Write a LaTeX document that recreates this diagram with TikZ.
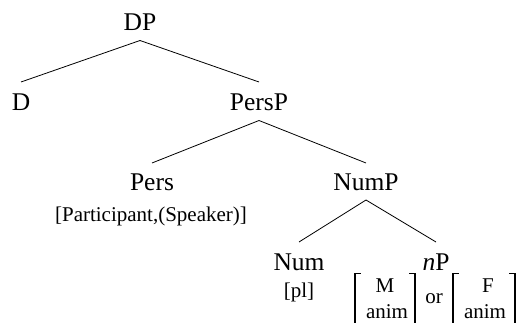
\documentclass[tikz,border=0pt]{standalone}
\usepackage{fontspec}
\setmainfont{Liberation Serif}
\begin{document}
\begin{tikzpicture}[x=1pt,y=-1pt,
  lbl/.style={anchor=base,inner sep=0pt,font=\fontsize{25.5}{30}\selectfont},
  feat/.style={anchor=base,inner sep=0pt,font=\fontsize{21}{25}\selectfont},
  branch/.style={line width=0.8pt},
  stem/.style={line width=1.7pt},
  arm/.style={line width=1pt}]
\useasboundingbox (0,0) rectangle (516,323);
\clip (0,0) rectangle (516,323);

% category labels
\node[lbl] (DP)    at (140,31)  {DP};
\node[lbl] (D)     at (21,111)  {D};
\node[lbl] (PersP) at (259,111) {PersP};
\node[lbl] (Pers)  at (152,190) {Pers};
\node[lbl] (NumP)  at (366,190) {NumP};
\node[lbl] (Num)   at (299,270) {Num};
\node[lbl] (nP)    at (436,270) {\textit{n}P};

% feature annotations
\node[feat] (persf) at (151,221) {[Participant,(Speaker)]};
\node[feat] (numf)  at (299,297) {[pl]};
\node[feat] (m)     at (385,292) {M};
\node[feat] (anim1) at (387,318.5) {anim};
\node[feat] (or)    at (434,303) {or};
\node[feat] (f)     at (488,292) {F};
\node[feat] (anim2) at (485,318.5) {anim};

% tree branches
\draw[branch] ([yshift=-9.5pt]DP.base)   -- ([yshift=29pt]D.base);
\draw[branch] ([yshift=-9.5pt]DP.base)   -- ([yshift=29pt]PersP.base);
\draw[branch] ([yshift=-9.5pt]PersP.base) -- ([yshift=27pt]Pers.base);
\draw[branch] ([yshift=-9.5pt]PersP.base) -- ([yshift=27pt]NumP.base);
\draw[branch] ([yshift=-10pt]NumP.base)  -- ([yshift=28pt]Num.base);
\draw[branch] ([yshift=-10pt]NumP.base)  -- ([yshift=28pt]nP.base);

% feature-matrix brackets
\draw[stem] (355,273) -- (355,345);
\draw[arm]  (354.5,273.5) -- (361,273.5);
\draw[stem] (415,273) -- (415,345);
\draw[arm]  (415.5,273.5) -- (409,273.5);
\draw[stem] (453,273) -- (453,345);
\draw[arm]  (452.5,273.5) -- (459,273.5);
\draw[stem] (515,273) -- (515,345);
\draw[arm]  (515.5,273.5) -- (509,273.5);
\end{tikzpicture}
\end{document}
